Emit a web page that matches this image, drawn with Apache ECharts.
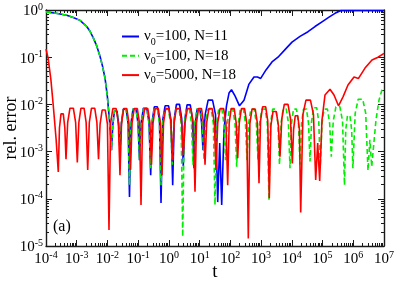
<!DOCTYPE html>
<html><head><meta charset="utf-8">
<script src="https://cdn.jsdelivr.net/npm/echarts@6/dist/echarts.min.js"></script>
<style>html,body{margin:0;padding:0;background:#fff}#c{width:395px;height:284px}</style>
</head><body><div id="c"></div>
<script>
// Tick labels (decade exponents) for the log-log axes
const xTickExponents = [-4, -3, -2, -1, 0, 1, 2, 3, 4, 5, 6, 7];
const yTickExponents = [-5, -4, -3, -2, -1, 0];
const minorFactors = [2, 3, 4, 5, 6, 7, 8, 9];

const seriesNames = ['ν0=100, N=11', 'ν0=100, N=18', 'ν0=5000, N=18'];
const legendSymbol = ['ν', 'ν', 'ν'];
const legendSub = ['0', '0', '0'];
const legendRest = ['=100, N=11', '=100, N=18', '=5000, N=18'];
const panelLabel = '(a)';

// Values, stored as log10(t) and log10(rel. error)
const blueLogT = [
  -4.000, -3.675, -3.326, -3.112, -2.893, -2.675, -2.568, -2.461, -2.350, -2.243, -2.161, -2.080, -2.005, -1.940, -1.901, -1.868,
  -1.827, -1.771, -1.689, -1.633, -1.592,
  -1.546, -1.484, -1.391, -1.329, -1.283,
  -1.234, -1.169, -1.071, -1.006, -0.957,
  -0.902, -0.830, -0.720, -0.648, -0.593,
  -0.543, -0.475, -0.375, -0.307, -0.257,
  -0.200, -0.124, -0.010, 0.066, 0.123,
  0.175, 0.244, 0.347, 0.416, 0.468,
  0.520, 0.590, 0.695, 0.765, 0.817,
  0.861, 0.919, 1.007, 1.065, 1.109,
  1.181, 1.277, 1.420, 1.516, 1.588,
  1.653, 1.718,
  1.793, 1.874, 1.956, 2.037, 2.151, 2.297, 2.444, 2.606, 2.769, 2.883, 2.987, 3.160, 3.355, 3.550,
  3.778, 4.006, 4.266, 4.527, 4.754, 4.982, 5.210, 5.405, 5.601, 7.000
];
const blueLogErr = [
  -0.04, -0.07, -0.11, -0.16, -0.22, -0.35, -0.45, -0.59, -0.76, -0.98, -1.19, -1.44, -1.82, -2.29, -2.65, -2.97,
  -2.44, -2.14, -2.14, -2.44, -2.97,
  -2.40, -2.10, -2.10, -2.40, -3.96,
  -2.40, -2.10, -2.10, -2.40, -3.18,
  -2.38, -2.08, -2.08, -2.38, -3.50,
  -2.35, -2.05, -2.05, -2.35, -4.09,
  -2.33, -2.03, -2.03, -2.33, -3.71,
  -2.30, -2.00, -2.00, -2.30, -3.31,
  -2.31, -2.01, -2.01, -2.31, -3.35,
  -2.40, -2.10, -2.10, -2.40, -2.97,
  -2.21, -1.91, -1.91, -2.21, -4.07,
  -2.82, -4.13,
  -2.54, -2.03, -1.76, -1.69, -1.82, -2.03, -1.91, -1.57, -1.42, -1.42, -1.45, -1.27, -1.10, -1.00,
  -0.84, -0.68, -0.56, -0.46, -0.35, -0.25, -0.15, -0.07, -0.01, -0.01
];

const greenLogT = [
  -4.000, -3.675, -3.326, -3.112, -2.893, -2.675, -2.568, -2.461, -2.350, -2.243, -2.161, -2.080, -2.005, -1.940, -1.901, -1.868,
  -1.827, -1.771, -1.689, -1.633, -1.592,
  -1.546, -1.484, -1.391, -1.329, -1.283,
  -1.234, -1.169, -1.071, -1.006, -0.957,
  -0.902, -0.830, -0.720, -0.648, -0.593,
  -0.543, -0.475, -0.375, -0.307, -0.257,
  -0.202, -0.129, -0.018, 0.055, 0.110,
  0.161, 0.229, 0.330, 0.398, 0.449,
  0.499, 0.566, 0.667, 0.734, 0.784,
  0.838, 0.909, 1.017, 1.088, 1.142,
  1.196, 1.267, 1.375, 1.446, 1.500,
  1.551, 1.620, 1.722, 1.791, 1.842,
  1.897, 1.969, 2.079, 2.151, 2.206,
  2.256, 2.323, 2.424, 2.491, 2.541,
  2.595, 2.666, 2.774, 2.845, 2.899,
  2.953, 3.024, 3.132, 3.203, 3.257,
  3.308, 3.377, 3.479, 3.548, 3.599,
  3.650, 3.719, 3.821, 3.890, 3.941,
  3.990, 4.055, 4.152, 4.217, 4.266,
  4.315, 4.380, 4.478, 4.543, 4.592,
  4.642, 4.709, 4.810, 4.877, 4.927,
  4.981, 5.052, 5.160, 5.231, 5.285,
  5.349, 5.435, 5.564, 5.650, 5.714,
  5.755, 5.810, 5.892, 5.947, 5.988,
  6.062, 6.160, 6.307, 6.405, 6.479,
  6.540, 6.600,
  6.739, 6.837, 6.935, 7.000
];
const greenLogErr = [
  -0.04, -0.07, -0.11, -0.16, -0.22, -0.35, -0.45, -0.59, -0.76, -0.98, -1.19, -1.44, -1.82, -2.29, -2.65, -2.97,
  -2.44, -2.14, -2.14, -2.44, -2.97,
  -2.40, -2.10, -2.10, -2.40, -3.71,
  -2.40, -2.10, -2.10, -2.40, -3.18,
  -2.40, -2.10, -2.10, -2.40, -3.35,
  -2.40, -2.10, -2.10, -2.40, -3.71,
  -2.40, -2.10, -2.10, -2.40, -3.28,
  -2.40, -2.10, -2.10, -2.40, -4.80,
  -2.40, -2.10, -2.10, -2.40, -3.28,
  -2.40, -2.10, -2.10, -2.40, -3.18,
  -2.40, -2.10, -2.10, -2.40, -4.13,
  -2.40, -2.10, -2.10, -2.40, -3.18,
  -2.40, -2.10, -2.10, -2.40, -3.32,
  -2.40, -2.10, -2.10, -2.40, -3.18,
  -2.40, -2.10, -2.10, -2.40, -3.18,
  -2.40, -2.10, -2.10, -2.40, -4.03,
  -2.40, -2.10, -2.10, -2.40, -3.28,
  -2.40, -2.10, -2.10, -2.40, -3.35,
  -2.40, -2.10, -2.10, -2.40, -3.28,
  -2.40, -2.10, -2.10, -2.40, -3.21,
  -2.37, -2.07, -2.07, -2.37, -3.32,
  -2.40, -2.10, -2.10, -2.40, -3.11,
  -2.35, -2.05, -2.05, -2.35, -3.71,
  -2.54, -2.24, -2.24, -2.54, -3.35,
  -2.19, -1.89, -1.89, -2.19, -3.40,
  -2.75, -3.32,
  -2.33, -1.91, -1.69, -1.67
];

const redLogT = [
  -4.00, -3.93, -3.84, -3.76, -3.67, -3.600,
  -3.562, -3.512, -3.437, -3.387, -3.349,
  -3.294, -3.220, -3.110, -3.036, -2.981,
  -2.930, -2.863, -2.761, -2.694, -2.643,
  -2.590, -2.520, -2.414, -2.344, -2.291,
  -2.240, -2.172, -2.069, -2.001, -1.950,
  -1.896, -1.825, -1.717, -1.646, -1.592,
  -1.541, -1.472, -1.370, -1.301, -1.250,
  -1.199, -1.130, -1.028, -0.959, -0.908,
  -0.857, -0.789, -0.686, -0.618, -0.567,
  -0.516, -0.447, -0.345, -0.276, -0.225,
  -0.174, -0.105, -0.003, 0.066, 0.117,
  0.170, 0.240, 0.345, 0.415, 0.468,
  0.525, 0.601, 0.716, 0.792, 0.849,
  0.898, 0.963, 1.061, 1.126, 1.175,
  1.229, 1.300, 1.407, 1.478, 1.532,
  1.589, 1.665, 1.780, 1.856, 1.913,
  1.962, 2.027, 2.125, 2.190, 2.239,
  2.291, 2.360, 2.463, 2.532, 2.584,
  2.636, 2.706, 2.810, 2.880, 2.932,
  2.982, 3.049, 3.150, 3.217, 3.267,
  3.319, 3.389, 3.493, 3.563, 3.615,
  3.675, 3.755, 3.876, 3.956, 4.016,
  4.057, 4.112, 4.193, 4.248, 4.289,
  4.362, 4.460, 4.606, 4.704, 4.777,
  4.842, 4.907,
  4.982, 5.080, 5.243, 5.373, 5.519, 5.666, 5.828, 6.024, 6.170, 6.382, 6.609, 6.805, 7.000
];
const redLogErr = [
  -0.83, -1.02, -1.48, -2.05, -2.75, -3.43,
  -2.50, -2.20, -2.20, -2.50, -3.16,
  -2.38, -2.08, -2.08, -2.38, -3.23,
  -2.38, -2.08, -2.08, -2.38, -3.39,
  -2.38, -2.08, -2.08, -2.38, -3.16,
  -2.42, -2.12, -2.12, -2.42, -4.66,
  -2.39, -2.09, -2.09, -2.39, -3.50,
  -2.39, -2.09, -2.09, -2.39, -3.39,
  -2.39, -2.09, -2.09, -2.39, -4.13,
  -2.39, -2.09, -2.09, -2.39, -3.28,
  -2.39, -2.09, -2.09, -2.39, -3.50,
  -2.39, -2.09, -2.09, -2.39, -3.18,
  -2.39, -2.09, -2.09, -2.39, -3.07,
  -2.39, -2.09, -2.09, -2.39, -3.85,
  -2.39, -2.09, -2.09, -2.39, -3.28,
  -2.39, -2.09, -2.09, -2.39, -3.39,
  -2.39, -2.09, -2.09, -2.39, -3.71,
  -2.39, -2.09, -2.09, -2.39, -3.14,
  -2.39, -2.09, -2.09, -2.39, -4.84,
  -2.40, -2.10, -2.10, -2.40, -3.67,
  -2.35, -2.05, -2.05, -2.35, -3.99,
  -2.45, -2.15, -2.15, -2.45, -3.11,
  -2.30, -2.00, -2.00, -2.30, -3.25,
  -2.54, -2.24, -2.24, -2.54, -4.29,
  -2.21, -1.91, -1.91, -2.21, -3.60,
  -2.82, -3.62,
  -2.33, -1.80, -1.68, -1.80, -2.03, -1.84, -1.59, -1.42, -1.45, -1.23, -1.06, -1.00, -0.92
];

const FONT = 'Liberation Serif';
const AXIS_COLOR = '#1a1a1a';

function pairs(xs, ys) { return xs.map((x, i) => [x, ys[i]]); }
function minorPositions(lo, hi) {
  const out = [];
  for (let n = lo; n < hi; n++) for (const k of minorFactors) out.push(n + Math.log10(k));
  return out;
}
const labelRich = {
  b: { fontFamily: FONT, fontSize: 15, color: '#000', lineHeight: 16, padding: [3, 0, 0, 0] },
  s: { fontFamily: FONT, fontSize: 10, color: '#000', lineHeight: 10, verticalAlign: 'top' }
};
function powerLabel(v) { return '{b|10}{s|' + Math.round(v) + '}'; }

function makeAxis(kind, pos, minor) {
  const isX = kind === 'x';
  const lo = isX ? xTickExponents[0] : yTickExponents[0];
  const hi = isX ? xTickExponents[xTickExponents.length - 1] : yTickExponents[yTickExponents.length - 1];
  const main = (pos === 'bottom' || pos === 'left');
  const ax = {
    type: 'value', min: lo, max: hi, position: pos,
    splitLine: { show: false },
    axisLine: { show: !minor, onZero: false, lineStyle: { color: AXIS_COLOR, width: 1.4 } },
    axisTick: { show: true, inside: true, length: minor ? 3 : 6, lineStyle: { color: AXIS_COLOR, width: 1 } },
    axisLabel: { show: false }
  };
  if (minor) {
    ax.axisTick.customValues = minorPositions(lo, hi);
  } else {
    ax.interval = 1;
  }
  if (main && !minor) {
    ax.axisLabel = {
      show: true, formatter: powerLabel, rich: labelRich,
      margin: isX ? 4 : 3
    };
    ax.nameLocation = 'middle';
    ax.nameMoveOverlap = false;
    if (isX) {
      ax.name = 't';
      ax.nameGap = 17;
      ax.nameTextStyle = { fontFamily: FONT, fontSize: 19, color: '#000' };
    } else {
      ax.name = 'rel. error';
      ax.nameGap = 26;
      ax.nameRotate = 90;
      ax.nameTextStyle = { fontFamily: FONT, fontSize: 18, color: '#000' };
    }
  }
  return ax;
}

const colors = ['#0000ff', '#00ee00', '#ff0000'];
const chart = echarts.init(document.getElementById('c'), null, { renderer: 'canvas' });
chart.setOption({
  animation: false,
  backgroundColor: '#fff',
  grid: { left: 46, right: 11, top: 10, bottom: 38, containLabel: false, outerBoundsMode: 'none' },
  xAxis: [makeAxis('x', 'bottom', false), makeAxis('x', 'bottom', true), makeAxis('x', 'top', false), makeAxis('x', 'top', true)],
  yAxis: [makeAxis('y', 'left', false), makeAxis('y', 'left', true), makeAxis('y', 'right', false), makeAxis('y', 'right', true)],
  legend: {
    orient: 'vertical', left: 116, top: 23, itemWidth: 17, itemHeight: 10, itemGap: 0.3,
    itemStyle: { opacity: 0 },
    data: seriesNames,
    formatter: function (name) {
      const i = seriesNames.indexOf(name);
      return '{n|' + legendSymbol[i] + '}{u|' + legendSub[i] + '}{n|' + legendRest[i] + '}';
    },
    textStyle: {
      fontFamily: FONT, fontSize: 15, color: '#000',
      rich: {
        n: { fontFamily: FONT, fontSize: 15, color: '#000', lineHeight: 17 },
        u: { fontFamily: FONT, fontSize: 10, color: '#000', lineHeight: 8, padding: [9, 0, 0, 0], verticalAlign: 'top' }
      }
    }
  },
  graphic: [{ type: 'text', left: 53, top: 219, style: { text: panelLabel, font: '16px "Liberation Serif"', fill: '#000' } }],
  series: [
    { name: seriesNames[0], type: 'line', data: pairs(blueLogT, blueLogErr), symbol: 'none', showSymbol: false,
      lineStyle: { color: colors[0], width: 1.6 }, itemStyle: { color: colors[0] }, clip: true },
    { name: seriesNames[1], type: 'line', data: pairs(greenLogT, greenLogErr), symbol: 'none', showSymbol: false,
      lineStyle: { color: colors[1], width: 1.6, type: [5, 3] }, itemStyle: { color: colors[1] }, clip: true },
    { name: seriesNames[2], type: 'line', data: pairs(redLogT, redLogErr), symbol: 'none', showSymbol: false,
      lineStyle: { color: colors[2], width: 1.6 }, itemStyle: { color: colors[2] }, clip: true }
  ]
});
</script>
</body></html>
